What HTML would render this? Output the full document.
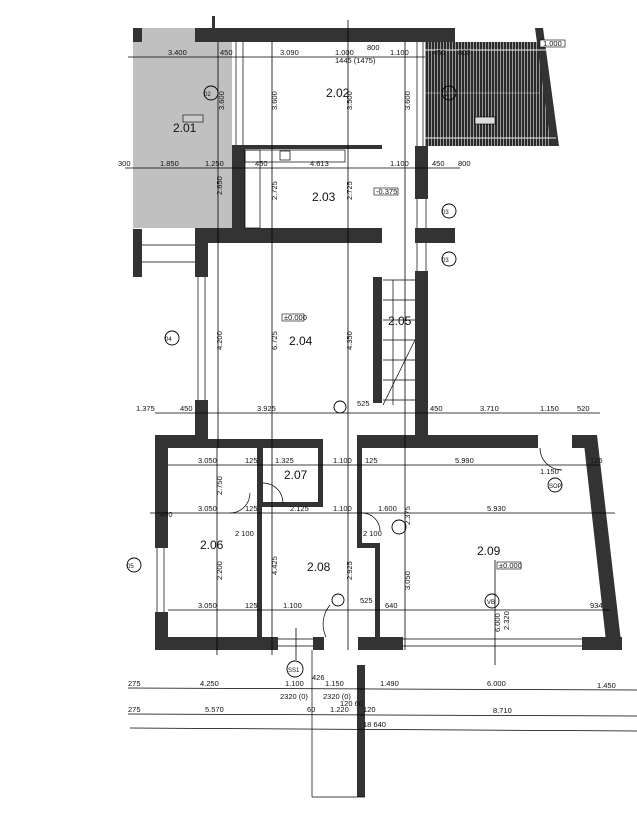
<!DOCTYPE html>
<html><head><meta charset="utf-8"><style>
html,body{margin:0;padding:0;background:#fff}
svg{display:block}
text{font-family:"Liberation Sans",sans-serif;fill:#111}
.d{font-size:7.5px}
.r{font-size:12px}
</style></head><body>
<svg width="637" height="840" viewBox="0 0 637 840" xmlns="http://www.w3.org/2000/svg">
<defs>
<pattern id="h" width="3" height="6" patternUnits="userSpaceOnUse">
<rect width="3" height="6" fill="#2a2a2a"/><rect x="2" width="1" height="6" fill="#999"/>
</pattern>
</defs>
<rect width="637" height="840" fill="#fff"/>
<rect x="133" y="28" width="99" height="200" fill="#c0c0c0"/>
<rect x="133" y="28" width="9" height="14" fill="#333"/>
<polygon points="425,42 540,42 557,146 425,146" fill="url(#h)"/>
<polygon points="535,28 543,28 559,146 551,146" fill="#333"/>
<line x1="425" y1="50" x2="552" y2="50" stroke="#eee" stroke-width="1"/>
<line x1="425" y1="138" x2="556" y2="138" stroke="#eee" stroke-width="1"/>
<line x1="425" y1="93" x2="540" y2="93" stroke="#ccc" stroke-width="0.6"/>
<rect x="475" y="117" width="20" height="7" fill="#ddd" stroke="#000" stroke-width="0.6"/>
<rect x="540" y="40" width="25" height="7" fill="#fff" stroke="#000" stroke-width="0.6"/>
<text class="d" x="543" y="46">1.000</text>
<g fill="#333">
<rect x="195" y="28" width="260" height="14"/>
<rect x="212" y="16" width="3" height="12"/>
<rect x="232" y="145" width="150" height="4"/>
<rect x="232" y="145" width="13" height="98"/>
<rect x="415" y="146" width="13" height="53"/>
<rect x="415" y="228" width="40" height="15"/>
<rect x="195" y="228" width="187" height="15"/>
<rect x="195" y="228" width="13" height="49"/>
<rect x="133" y="229" width="9" height="48"/>
<rect x="195" y="400" width="13" height="48"/>
<rect x="373" y="277" width="9" height="126"/>
<rect x="415" y="271" width="13" height="177"/>
<rect x="155" y="435" width="53" height="13"/>
<rect x="208" y="439" width="115" height="9"/>
<rect x="357" y="435" width="181" height="13"/>
<rect x="572" y="435" width="25" height="13"/>
<polygon points="583,435 597,435 622,650 607,650"/>
<rect x="155" y="435" width="13" height="113"/>
<rect x="155" y="612" width="13" height="38"/>
<rect x="155" y="637" width="123" height="13"/>
<rect x="582" y="637" width="40" height="13"/>
<rect x="313" y="637" width="11" height="13"/>
<rect x="358" y="637" width="45" height="13"/>
<rect x="257" y="448" width="5" height="189"/>
<rect x="257" y="448" width="6" height="58"/>
<rect x="318" y="448" width="5" height="58"/>
<rect x="257" y="502" width="66" height="5"/>
<rect x="357" y="448" width="5" height="98"/>
<rect x="357" y="543" width="23" height="5"/>
<rect x="375" y="543" width="5" height="94"/>
<rect x="357" y="665" width="8" height="132"/>
</g>
<g stroke="#000" fill="none" stroke-width="0.7">
<line x1="403" y1="639" x2="582" y2="639"/><line x1="403" y1="646" x2="582" y2="646"/>
<line x1="278" y1="639" x2="313" y2="639"/><line x1="278" y1="646" x2="313" y2="646"/>
<line x1="157" y1="548" x2="157" y2="612"/><line x1="164" y1="548" x2="164" y2="612"/>
<line x1="198" y1="277" x2="198" y2="400"/><line x1="205" y1="277" x2="205" y2="400"/>
<line x1="236" y1="42" x2="236" y2="145"/><line x1="243" y1="42" x2="243" y2="145"/>
<line x1="417" y1="42" x2="417" y2="146"/><line x1="423" y1="42" x2="423" y2="146"/>
<line x1="417" y1="199" x2="417" y2="228"/><line x1="426" y1="199" x2="426" y2="228"/>
<line x1="417" y1="243" x2="417" y2="271"/><line x1="426" y1="243" x2="426" y2="271"/>
<line x1="312" y1="650" x2="312" y2="797"/><line x1="312" y1="797" x2="365" y2="797"/>
<line x1="142" y1="245" x2="195" y2="245"/><line x1="142" y1="262" x2="195" y2="262"/>
<rect x="245" y="150" width="15" height="78"/>
<rect x="245" y="150" width="100" height="12"/>
<rect x="280" y="151" width="10" height="9"/>
<line x1="383" y1="280" x2="415" y2="280"/><line x1="383" y1="300" x2="415" y2="300"/>
<line x1="383" y1="320" x2="415" y2="320"/><line x1="383" y1="340" x2="415" y2="340"/>
<line x1="383" y1="360" x2="415" y2="360"/><line x1="383" y1="380" x2="415" y2="380"/>
<line x1="383" y1="400" x2="415" y2="400"/><line x1="383" y1="405" x2="415" y2="340"/>
<line x1="393" y1="280" x2="393" y2="405"/>
<path d="M263 483 A20 20 0 0 1 283 503"/>
<path d="M230 513 A20 20 0 0 0 250 493"/>
<path d="M362 513 A18 18 0 0 1 380 531"/>
<path d="M540 448 A22 22 0 0 0 562 470"/>
<path d="M330 605 A30 30 0 0 0 326 637"/>
</g>
<g stroke="#000" stroke-width="0.8">
<line x1="128" y1="57" x2="425" y2="57"/>
<line x1="125" y1="168" x2="460" y2="168"/>
<line x1="155" y1="413" x2="600" y2="413"/>
<line x1="168" y1="465" x2="600" y2="465"/>
<line x1="150" y1="513" x2="615" y2="513"/>
<line x1="168" y1="610" x2="610" y2="610"/>
<line x1="128" y1="688" x2="637" y2="690"/>
<line x1="128" y1="714" x2="637" y2="716"/>
<line x1="130" y1="728" x2="637" y2="731"/>
<line x1="218" y1="42" x2="218" y2="448"/>
<line x1="272" y1="42" x2="272" y2="448"/>
<line x1="348" y1="20" x2="348" y2="448"/>
<line x1="405" y1="42" x2="405" y2="448"/>
<line x1="217" y1="448" x2="217" y2="655"/>
<line x1="272" y1="448" x2="272" y2="655"/>
<line x1="348" y1="448" x2="348" y2="650"/>
<line x1="405" y1="448" x2="405" y2="650"/>
<line x1="495" y1="560" x2="495" y2="665"/>
<line x1="296" y1="628" x2="296" y2="660"/>
</g>
<g fill="none" stroke="#000" stroke-width="0.9">
<circle cx="211" cy="93" r="7"/><circle cx="449" cy="93" r="7"/>
<circle cx="449" cy="211" r="7"/><circle cx="449" cy="259" r="7"/>
<circle cx="172" cy="338" r="7"/><circle cx="134" cy="565" r="7"/>
<circle cx="295" cy="669" r="8"/><circle cx="555" cy="485" r="7"/>
<circle cx="492" cy="601" r="7"/><circle cx="399" cy="527" r="7"/>
<circle cx="338" cy="600" r="6"/><circle cx="340" cy="407" r="6"/>
</g>
<g class="d">
<text x="442" y="96" font-size="6">03</text><text x="442" y="214" font-size="6">03</text><text x="442" y="262" font-size="6">03</text>
<text x="165" y="341" font-size="6">04</text><text x="127" y="568" font-size="6">05</text><text x="204" y="96" font-size="6">02</text>
<text x="288" y="672" font-size="6">SS1</text><text x="549" y="488" font-size="6">SOP</text><text x="487" y="604" font-size="6">VB</text>
<text x="168" y="55">3.400</text><text x="220" y="55">450</text><text x="280" y="55">3.090</text>
<text x="335" y="55">1.000</text><text x="335" y="63">1445 (1475)</text><text x="367" y="50">800</text>
<text x="390" y="55">1.100</text><text x="433" y="55">450</text><text x="458" y="55">800</text>
<text x="118" y="166">300</text><text x="160" y="166">1.850</text><text x="205" y="166">1.250</text>
<text x="255" y="166">450</text><text x="310" y="166">4.613</text><text x="390" y="166">1.100</text>
<text x="432" y="166">450</text><text x="458" y="166">800</text>
<text x="136" y="411">1.375</text><text x="180" y="411">450</text><text x="257" y="411">3.925</text>
<text x="357" y="406">525</text><text x="430" y="411">450</text><text x="480" y="411">3.710</text>
<text x="540" y="411">1.150</text><text x="577" y="411">520</text>
<text x="198" y="463">3.050</text><text x="245" y="463">125</text><text x="275" y="463">1.325</text>
<text x="333" y="463">1.100</text><text x="365" y="463">125</text><text x="455" y="463">5.990</text>
<text x="540" y="474">1.150</text><text x="590" y="463">125</text>
<text x="198" y="511">3.050</text><text x="245" y="511">125</text><text x="290" y="511">2.125</text>
<text x="333" y="511">1.100</text><text x="378" y="511">1.600</text><text x="487" y="511">5.930</text>
<text x="198" y="608">3.050</text><text x="245" y="608">125</text><text x="283" y="608">1.100</text>
<text x="360" y="603">525</text><text x="385" y="608">640</text><text x="590" y="608">934</text>
<text x="235" y="536">2 100</text><text x="363" y="536">2 100</text>
<text x="128" y="686">275</text><text x="200" y="686">4.250</text><text x="285" y="686">1.100</text>
<text x="280" y="699">2320 (0)</text><text x="325" y="686">1.150</text><text x="323" y="699">2320 (0)</text>
<text x="380" y="686">1.490</text><text x="487" y="686">6.000</text><text x="597" y="688">1.450</text>
<text x="128" y="712">275</text><text x="205" y="712">5.570</text><text x="307" y="712">60</text>
<text x="330" y="712">1.220</text><text x="340" y="706">120 60</text><text x="363" y="712">120</text>
<text x="493" y="713">8.710</text><text x="363" y="727">18 640</text>
<text x="312" y="680">426</text><text x="160" y="517">450</text>
</g>
<g class="d">
<text transform="translate(224,110) rotate(-90)">3.600</text>
<text transform="translate(277,110) rotate(-90)">3.600</text>
<text transform="translate(352,110) rotate(-90)">3.500</text>
<text transform="translate(410,110) rotate(-90)">3.600</text>
<text transform="translate(222,195) rotate(-90)">2.650</text>
<text transform="translate(277,200) rotate(-90)">2.725</text>
<text transform="translate(352,200) rotate(-90)">2.725</text>
<text transform="translate(277,350) rotate(-90)">6.725</text>
<text transform="translate(222,350) rotate(-90)">4.200</text>
<text transform="translate(352,350) rotate(-90)">4.350</text>
<text transform="translate(222,495) rotate(-90)">2.750</text>
<text transform="translate(222,580) rotate(-90)">2.200</text>
<text transform="translate(277,575) rotate(-90)">4.425</text>
<text transform="translate(352,580) rotate(-90)">2.925</text>
<text transform="translate(410,525) rotate(-90)">2.375</text>
<text transform="translate(410,590) rotate(-90)">3.050</text>
<text transform="translate(500,632) rotate(-90)">6.000</text>
<text transform="translate(509,630) rotate(-90)">2.320</text>
</g>
<g class="r">
<text x="173" y="132">2.01</text><text x="326" y="97">2.02</text>
<text x="312" y="201">2.03</text><text x="289" y="345">2.04</text>
<text x="388" y="325">2.05</text><text x="284" y="479">2.07</text>
<text x="200" y="549">2.06</text><text x="307" y="571">2.08</text>
<text x="477" y="555">2.09</text>
</g>
<g class="d">
<rect x="282" y="314" width="22" height="7" fill="#fff" stroke="#000" stroke-width="0.6"/><text x="284" y="320">±0.000</text>
<rect x="497" y="562" width="24" height="7" fill="#fff" stroke="#000" stroke-width="0.6"/><text x="499" y="568">±0.000</text>
<rect x="374" y="188" width="24" height="7" fill="#fff" stroke="#000" stroke-width="0.6"/><text x="376" y="194">-0.375</text>
<rect x="183" y="115" width="20" height="7" fill="#ccc" stroke="#000" stroke-width="0.6"/>
</g>
</svg>
</body></html>
